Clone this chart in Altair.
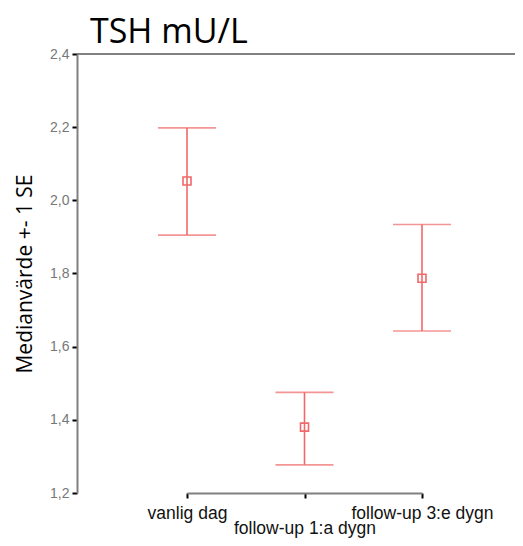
import altair as alt
import pandas as pd

categories = ["vanlig dag", "follow-up 1:a dygn", "follow-up 3:e dygn"]
median = [2.053, 1.380, 1.787]
upper = [2.198, 1.475, 1.934]
lower = [1.905, 1.277, 1.643]
y_ticks = [1.2, 1.4, 1.6, 1.8, 2.0, 2.2, 2.4]
y_top = [2.4]

df = pd.DataFrame({"cat": categories, "median": median, "upper": upper, "lower": lower})
top_df = pd.DataFrame({"y": y_top})

RED = "#f06868"
GRAY = "#808080"

xenc = alt.X(
    "cat:N",
    sort=categories,
    scale=alt.Scale(type="point", range=[110, 345], padding=0),
    axis=alt.Axis(
        title=None, labelAngle=0, labelFont="Liberation Sans", labelFontSize=17.5,
        labelColor="#111111", labelPadding=6, tickSize=5, tickColor="#000000",
        tickWidth=2, domainColor=GRAY, domainWidth=2, labelLineHeight=15,
        labelOverlap=False, grid=False,
        labelExpr="datum.label == 'follow-up 1:a dygn' ? ['', datum.label] : datum.label",
    ),
)

yscale = alt.Scale(domain=[1.2, 2.4], nice=False, zero=False)
yaxis = alt.Axis(
    title="Medianvärde +- 1 SE", values=y_ticks, grid=False,
    labelExpr="replace(format(datum.value, '.1f'), '.', ',')",
    labelFont="Liberation Sans", labelFontSize=14, labelColor="#777777",
    labelPadding=3, tickSize=5, tickColor="#000000", tickWidth=2,
    domainColor=GRAY, domainWidth=2,
    titleFont="Open Sans", titleFontSize=21, titleFontWeight="normal",
    titleColor="#000000", titleX=-52, titleY=219.5, titleAngle=-90,
    titleAlign="center", titleBaseline="middle",
)

def Y(field):
    return alt.Y(field, type="quantitative", scale=yscale, axis=yaxis)

base = alt.Chart(df)

bars = base.mark_rule(color=RED, strokeWidth=1.6).encode(
    x=xenc, y=Y("lower"), y2="upper"
)
cap_hi = base.mark_tick(color=RED, thickness=1.6, size=58, orient="horizontal").encode(
    x=xenc, y=Y("upper")
)
cap_lo = base.mark_tick(color=RED, thickness=1.6, size=58, orient="horizontal").encode(
    x=xenc, y=Y("lower")
)
pts = base.mark_point(shape="square", filled=False, color=RED, size=64, strokeWidth=1.6, opacity=1).encode(
    x=xenc, y=Y("median")
)
top_line = alt.Chart(top_df).mark_rule(color=GRAY, strokeWidth=2).encode(
    y=Y("y"), x=alt.value(0), x2=alt.value("width")
)

chart = alt.layer(bars, cap_hi, cap_lo, pts, top_line).properties(
    width=438,
    height=439,
    title=alt.TitleParams(
        "TSH mU/L", anchor="start", font="Open Sans", fontSize=34,
        fontWeight="normal", color="#000000", dx=13, dy=13, offset=10,
        frame="group",
    ),
    padding={"left": 69, "top": 46, "right": 0, "bottom": 45},
    autosize=alt.AutoSizeParams(type="none"),
).configure_view(stroke=None)

chart.save("out.html", embed_options={"renderer": "svg", "actions": False})
